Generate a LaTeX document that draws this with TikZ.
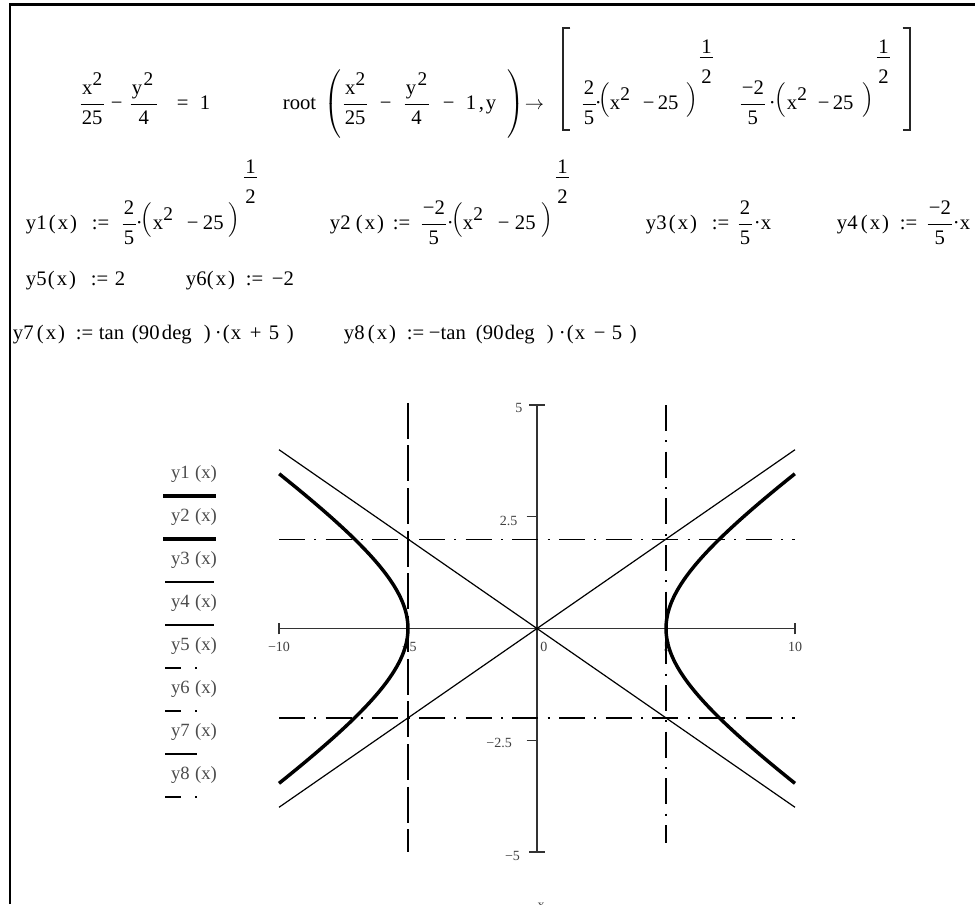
\documentclass[tikz,border=0pt]{standalone}
\usepackage{amsmath}
\usepackage{fontspec}
\setmainfont{Liberation Serif}
\newdimen\PX \PX=0.75pt
\newcommand\at[2]{\rlap{\hspace*{#1\PX}#2}}
\newcommand\sq[1]{#1\raisebox{0.42em}{\fontsize{14.5}{15}\selectfont 2}}
\newcommand\sqy[1]{#1\kern1pt\raisebox{0.42em}{\fontsize{14.5}{15}\selectfont 2}}
\newcommand\Fr[2]{$\genfrac{}{}{0.8pt}{0}{\mbox{\raisebox{1.5pt}{\kern1pt#1\kern1pt}}}{\mbox{\raisebox{-1.5pt}{\kern1pt#2\kern1pt}}}$}
\newcommand\BigL{$\left(\vrule height 27pt depth 21pt width 0pt\right.$}
\newcommand\BigR{$\left.\vrule height 27pt depth 21pt width 0pt\right)$}
\newcommand\MedL{\raisebox{3pt}{$\left(\vrule height 13pt depth 7pt width 0pt\right.$}}
\newcommand\MedR{\raisebox{3pt}{$\left.\vrule height 13pt depth 7pt width 0pt\right)$}}
\newcommand\halfexp{\raisebox{19pt}{\vbox{\hbox to 10pt{\hss 1\hss}\kern2.5pt\hrule width 10pt height 0.8pt\kern9pt\hbox to 10pt{\hss 2\hss}}}}
\newcommand\px{(\kern1.5pt x\kern1.5pt)}
\begin{document}
\begin{tikzpicture}[x=0.75pt,y=-0.75pt,
  fm/.style={font=\fontsize{15.5}{17}\selectfont, inner sep=0pt, anchor=base west},
  ticklab/.style={font=\fontsize{10.5}{12}\selectfont, text=black!75, inner sep=0pt},
  leglab/.style={font=\fontsize{14}{15}\selectfont, text=black!70, inner sep=0pt},
  axisline/.style={line width=0.9pt, draw=black!80},
  branch/.style={line width=2.6pt, line join=round},
  asym/.style={line width=0.9pt},
  dashdotline/.style={line width=0.9pt, dash pattern=on 19.5pt off 7pt on 1.5pt off 7pt},
  longdash/.style={line width=0.9pt, dash pattern=on 27pt off 5pt},
  legdash/.style={line width=0.9pt},
  bracket/.style={line width=1.1pt, draw=black!85},
  framestyle/.style={line width=2.2pt}
]
\useasboundingbox (0,0) rectangle (975,904);
\fill[white] (0,0) rectangle (975,904);

% ---- row 1 ----
\node[fm] (row1) at (0,109) {%
\at{78}{\Fr{\sq{x}}{25}}\at{110}{−}\at{128}{\Fr{\sqy{y}\kern2pt}{4}}\at{176}{=}\at{199}{1}%
\at{282}{root}\at{324}{\BigL}\at{341}{\Fr{\sq{x}}{25}}\at{379}{−}\at{402}{\Fr{\sqy{y}}{4}}\at{442}{−}\at{465}{1}\at{478}{,}\at{485}{y}\at{505}{\BigR}%
\at{524}{$\rightarrow$}%
\at{580}{\Fr{2}{5}}\at{594}{·}\at{598}{\MedL}\at{609}{\sq{x}}\at{642}{−}\at{657}{25}\at{684}{\MedR}\at{699}{\halfexp}%
\at{738}{\Fr{−2}{5}}\at{768}{·}\at{774}{\MedL}\at{786}{\sq{x}}\at{817}{−}\at{832}{25}\at{860}{\MedR}\at{876}{\halfexp}%
};
\coordinate (lbT) at (563,28); \coordinate (lbB) at (563,130);
\coordinate (rbT) at (910,28); \coordinate (rbB) at (910,130);
\draw[bracket] ([xshift=5.5]lbT) -- (lbT) -- (lbB) -- ([xshift=5.5]lbB);
\draw[bracket] ([xshift=-5.5]rbT) -- (rbT) -- (rbB) -- ([xshift=-5.5]rbB);

% ---- row 2 ----
\node[fm] (row2) at (0,229) {%
\at{25}{y1}\at{48}{\px}\at{91}{:=}\at{120}{\Fr{2}{5}}\at{135}{·}\at{140}{\MedL}\at{152}{\sq{x}}\at{186}{−}\at{202}{25}\at{226}{\MedR}\at{243}{\halfexp}%
\at{329}{y2}\at{355}{\px}\at{392}{:=}\at{419}{\Fr{−2}{5}}\at{446}{·}\at{451}{\MedL}\at{462}{\sq{x}}\at{497}{−}\at{514}{25}\at{539}{\MedR}\at{555}{\halfexp}%
\at{645}{y3}\at{668}{\px}\at{711}{:=}\at{736}{\Fr{2}{5}}\at{753}{·x}%
\at{836}{y4}\at{860}{\px}\at{899}{:=}\at{925}{\Fr{−2}{5}}\at{952}{·x}%
};

% ---- row 3 ----
\node[fm] (row3) at (0,285) {%
\at{25}{y5}\at{47}{\px}\at{90}{:=}\at{114}{2}%
\at{185}{y6}\at{206}{\px}\at{245}{:=}\at{271}{−2}%
};

% ---- row 4 ----
\node[fm] (row4) at (0,339) {%
\at{12}{y7}\at{36}{\px}\at{75}{:=}\at{98}{tan}\at{131}{(}\at{138}{90}\at{161}{deg}\at{203}{)}\at{214}{·}\at{222}{(}\at{230}{x}\at{249}{+}\at{268}{5}\at{286}{)}%
\at{343}{y8}\at{367}{\px}\at{406}{:=}\at{428}{−tan}\at{475}{(}\at{482}{90}\at{504}{deg}\at{546}{)}\at{558}{·}\at{566}{(}\at{574}{x}\at{593}{−}\at{611}{5}\at{629}{)}%
};

% ---- legend ----
\foreach \i/\t in {0/1,1/2,2/3,3/4,4/5,5/6,6/7,7/8}{
  \node[leglab] (leg\t) at (194,{474+43*\i}) {y\t\hspace{4pt}(x)};
}
\draw[branch, line width=2.4pt] (163,496) -- (216,496);
\draw[branch, line width=2.4pt] (163,539) -- (216,539);
\draw[asym] (165,582) -- (214,582);
\draw[asym] (165,625) -- (214,625);
\draw[legdash] (165,668) -- (181,668) (195,668) -- (197,668);
\draw[legdash] (165,711) -- (181,711) (195,711) -- (197,711);
\draw[legdash] (165,754) -- (197,754);
\draw[legdash] (165,797) -- (181,797) (195,797) -- (197,797);

% ---- plot ----
\begin{scope}[shift={(537,628.5)}, x=19.35pt, y=33.525pt]
  \draw[axisline] (-10,0) -- (10,0);
  \draw[axisline] (-10,-0.13) -- (-10,0.13);
  \draw[axisline] (10,-0.13) -- (10,0.13);
  \draw[axisline] (0,-5) -- (0,5);
  \draw[axisline] (-0.3,5) -- (0.3,5);
  \draw[axisline] (-0.3,-5) -- (0.3,-5);
  \draw[axisline] (-0.4,2.5) -- (0,2.5);
  \draw[axisline] (-0.4,-2.5) -- (0,-2.5);

  \node[ticklab] (xtm10) at (-10,-0.42) {−10};
  \node[ticklab] (xtm5) at (-4.95,-0.42) {−5};
  \node[ticklab] (xt0) at (0.27,-0.42) {0};
  \node[ticklab] (xt5) at (5.05,-0.42) {5};
  \node[ticklab] (xt10) at (10,-0.42) {10};
  \node[ticklab] (yt5) at (-0.7,4.93) {5};
  \node[ticklab] (yt25) at (-1.1,2.41) {2.5};
  \node[ticklab] (ytm25) at (-1.47,-2.57) {−2.5};
  \node[ticklab] (ytm5) at (-0.95,-5.08) {−5};

  \draw[asym] (-10,-4) -- (10,4);
  \draw[asym] (-10,4) -- (10,-4);
  \draw[dashdotline] (-10,2) -- (10,2);
  \draw[dashdotline] (-10,-2) -- (10,-2);
  \draw[longdash] (-5,5.05) -- (-5,-5);
  \draw[dashdotline] (5,5) -- (5,-4.8);
  \draw[branch] plot[domain=-1.3170:1.3170, samples=90, smooth] ({5*cosh(\x)},{2*sinh(\x)});
  \draw[branch] plot[domain=-1.3170:1.3170, samples=90, smooth] ({-5*cosh(\x)},{2*sinh(\x)});
\end{scope}
\node[ticklab] (xlab) at (541,906) {x};

% ---- frame ----
\draw[framestyle] (10,904) -- (10,4.5) -- (975,4.5);
\end{tikzpicture}
\end{document}
